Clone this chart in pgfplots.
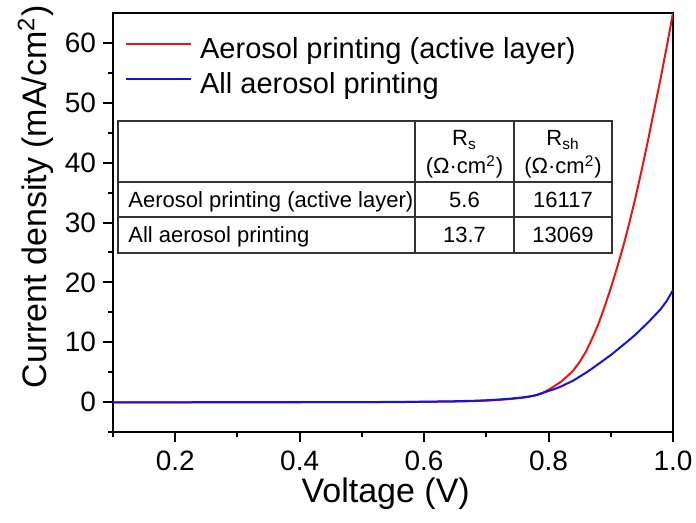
\documentclass[border=0pt]{standalone}
\usepackage{fontspec}
\setmainfont{Liberation Sans}
\usepackage{pgfplots}
\pgfplotsset{compat=1.18}
\definecolor{cred}{RGB}{235,20,20}
\definecolor{cblue}{RGB}{20,20,225}
\begin{document}
\begin{tikzpicture}
\begin{axis}[
  at={(56.5pt,-216pt)}, anchor=south west,
  scale only axis, width=280pt, height=209.5pt,
  xmin=0.1, xmax=1.0, ymin=-5, ymax=65,
  xtick={0.2,0.4,0.6,0.8,1.0},
  ytick={0,10,20,30,40,50,60},
  minor xtick={0.1,0.3,0.5,0.7,0.9},
  minor ytick={-5,5,15,25,35,45,55},
  tick pos=left, tick align=outside,
  major tick length=5pt, minor tick length=2.5pt,
  every tick/.style={black, line width=1pt},
  axis line style={line width=1.2pt},
  /pgf/number format/assume math mode=true,
  ticklabel style={font=\fontsize{14}{16}\selectfont},
  xticklabel style={yshift=-1pt, /pgf/number format/fixed, /pgf/number format/precision=1, /pgf/number format/fixed zerofill},
  xlabel={Voltage (V)},
  ylabel={Current density (mA/cm\textsuperscript{2})},
  label style={font=\fontsize{17}{20}\selectfont},
  xlabel style={at={(axis description cs:0.487,-0.169)}, anchor=base},
  ylabel style={at={(axis description cs:-0.118,0.561)}, anchor=base},
  legend cell align=left,
  legend style={draw=none, fill=none, at={(axis description cs:0.021,0.945)}, anchor=north west,
    inner sep=0pt, row sep=0pt, column sep=4pt,
    font=\fontsize{14.5}{17.5}\selectfont,
    nodes={inner sep=0pt, text height=11pt, text depth=6.5pt}},
  legend image code/.code={\draw[#1] (0pt,5pt) -- (32.5pt,5pt);},
]
\addplot[cred, line width=1pt] coordinates {
(0.10,-0.05) (0.20,-0.05) (0.30,-0.03) (0.40,-0.03) (0.50,-0.02) (0.55,0.0)
(0.60,0.03) (0.65,0.09) (0.68,0.16) (0.70,0.24) (0.72,0.36) (0.74,0.52)
(0.76,0.75) (0.77,0.92) (0.78,1.15) (0.79,1.5) (0.80,2.05) (0.81,2.7)
(0.82,3.4) (0.83,4.3) (0.84,5.3) (0.85,6.7) (0.86,8.4) (0.87,10.6)
(0.88,13.0) (0.89,15.9) (0.90,19.0) (0.91,22.4) (0.92,26.0) (0.93,30.0)
(0.94,34.3) (0.95,38.9) (0.96,43.8) (0.97,48.9) (0.98,54.0) (0.99,59.4) (1.00,65.0)
};
\addlegendentry{Aerosol printing (active layer)}
\addplot[cblue, line width=1pt] coordinates {
(0.10,-0.03) (0.20,-0.04) (0.30,0.0) (0.40,-0.02) (0.50,0.0) (0.55,0.02)
(0.60,0.06) (0.65,0.14) (0.68,0.22) (0.70,0.3) (0.72,0.42) (0.74,0.58)
(0.76,0.8) (0.77,0.95) (0.78,1.15) (0.79,1.5) (0.80,1.85) (0.81,2.2)
(0.82,2.6) (0.83,3.1) (0.84,3.6) (0.85,4.25) (0.86,4.9) (0.87,5.6)
(0.88,6.35) (0.89,7.1) (0.90,7.85) (0.91,8.7) (0.92,9.55) (0.93,10.4)
(0.94,11.3) (0.95,12.3) (0.96,13.3) (0.97,14.4) (0.98,15.5) (0.99,16.9) (1.00,18.7)
};
\addlegendentry{All aerosol printing}
\end{axis}
\begin{scope}[x=0.5pt, y=-0.5pt, font=\fontsize{11}{13}\selectfont]
  \fill[white] (118,121) rectangle (612,253);
  \draw[line width=0.6pt, black!80] (118,121) rectangle (612,253);
  \draw[line width=0.6pt, black!80] (118,182) -- (612,182) (118,217) -- (612,217)
     (415,121) -- (415,253) (514,121) -- (514,253);
  \node[anchor=base, inner sep=0pt] at (464.5,146) {R\textsubscript{s}};
  \node[anchor=base, inner sep=0pt] at (464.5,174) {(Ω·cm\textsuperscript{2})};
  \node[anchor=base, inner sep=0pt] at (563,146) {R\textsubscript{sh}};
  \node[anchor=base, inner sep=0pt] at (563,174) {(Ω·cm\textsuperscript{2})};
  \node[anchor=base west, inner sep=0pt] at (128,207.5) {Aerosol printing (active layer)};
  \node[anchor=base west, inner sep=0pt] at (128,243) {All aerosol printing};
  \node[anchor=base, inner sep=0pt] at (464.5,207.5) {5.6};
  \node[anchor=base, inner sep=0pt] at (563,207.5) {16117};
  \node[anchor=base, inner sep=0pt] at (464.5,243) {13.7};
  \node[anchor=base, inner sep=0pt] at (563,243) {13069};
\end{scope}
\pgfresetboundingbox
\path (0pt,0pt) rectangle (348pt,-261.5pt);
\end{tikzpicture}
\end{document}
